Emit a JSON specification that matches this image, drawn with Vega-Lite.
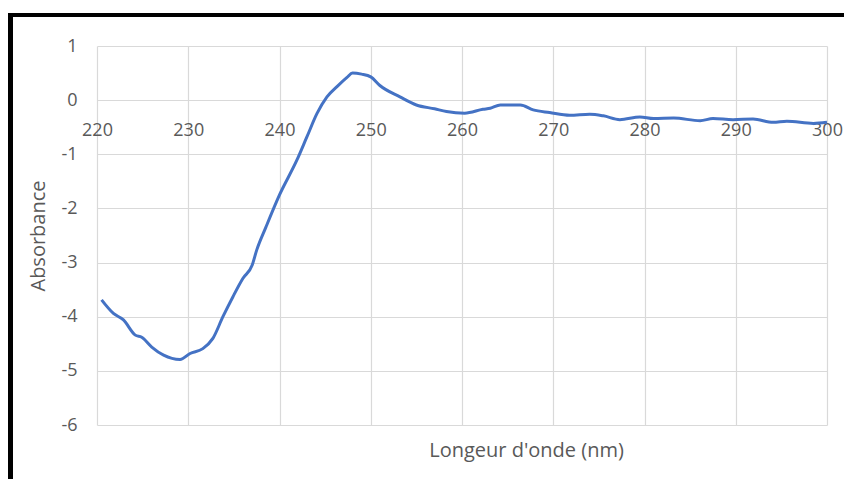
{
  "$schema": "https://vega.github.io/schema/vega-lite/v6.json",
  "width": 730,
  "height": 379,
  "autosize": "none",
  "padding": {"left": 97, "top": 46, "right": 17, "bottom": 54},
  "background": "white",
  "config": {
    "view": {"stroke": null},
    "font": "Open Sans",
    "axis": {
      "labelFont": "Open Sans",
      "titleFont": "Open Sans",
      "labelColor": "#595959",
      "titleColor": "#595959",
      "labelFontSize": 18,
      "titleFontSize": 20,
      "titleFontWeight": "normal",
      "gridColor": "#d9d9d9",
      "gridWidth": 1.2,
      "domain": false,
      "ticks": false
    }
  },
  "data": {
    "values": [
      {"wl": 220.5, "abs": -3.69},
      {"wl": 221.8, "abs": -3.94},
      {"wl": 222.9, "abs": -4.06},
      {"wl": 224.2, "abs": -4.34},
      {"wl": 224.9, "abs": -4.38},
      {"wl": 226.0, "abs": -4.56},
      {"wl": 227.3, "abs": -4.71},
      {"wl": 229.1, "abs": -4.79},
      {"wl": 230.2, "abs": -4.68},
      {"wl": 231.6, "abs": -4.59},
      {"wl": 232.7, "abs": -4.40},
      {"wl": 233.8, "abs": -4.00},
      {"wl": 234.9, "abs": -3.63},
      {"wl": 236.0, "abs": -3.29},
      {"wl": 237.0, "abs": -3.05},
      {"wl": 237.5, "abs": -2.77},
      {"wl": 238.5, "abs": -2.35},
      {"wl": 240.0, "abs": -1.75},
      {"wl": 241.9, "abs": -1.11},
      {"wl": 243.0, "abs": -0.68},
      {"wl": 244.1, "abs": -0.25},
      {"wl": 245.2, "abs": 0.06},
      {"wl": 246.3, "abs": 0.25},
      {"wl": 247.4, "abs": 0.42},
      {"wl": 248.0, "abs": 0.50},
      {"wl": 249.0, "abs": 0.48},
      {"wl": 250.0, "abs": 0.43},
      {"wl": 251.0, "abs": 0.27},
      {"wl": 253.2, "abs": 0.06},
      {"wl": 255.0, "abs": -0.09},
      {"wl": 257.0, "abs": -0.16},
      {"wl": 258.3, "abs": -0.21},
      {"wl": 260.3, "abs": -0.24},
      {"wl": 262.3, "abs": -0.17},
      {"wl": 263.1, "abs": -0.15},
      {"wl": 264.2, "abs": -0.09},
      {"wl": 266.4, "abs": -0.09},
      {"wl": 267.8, "abs": -0.18},
      {"wl": 269.6, "abs": -0.23},
      {"wl": 271.8, "abs": -0.28},
      {"wl": 274.0, "abs": -0.26},
      {"wl": 275.5, "abs": -0.29},
      {"wl": 277.3, "abs": -0.36},
      {"wl": 279.5, "abs": -0.31},
      {"wl": 281.0, "abs": -0.34},
      {"wl": 283.2, "abs": -0.33},
      {"wl": 286.1, "abs": -0.38},
      {"wl": 287.5, "abs": -0.34},
      {"wl": 289.7, "abs": -0.36},
      {"wl": 291.9, "abs": -0.35},
      {"wl": 294.1, "abs": -0.41},
      {"wl": 295.6, "abs": -0.39},
      {"wl": 298.5, "abs": -0.43},
      {"wl": 300.0, "abs": -0.41}
    ]
  },
  "layer": [
    {
      "mark": {"type": "line", "color": "#4472C4", "strokeWidth": 3, "interpolate": "monotone"},
      "encoding": {
        "x": {
          "field": "wl",
          "type": "quantitative",
          "scale": {"domain": [220, 300], "nice": false, "zero": false},
          "axis": {
            "title": "Longeur d'onde (nm)",
            "values": [220, 230, 240, 250, 260, 270, 280, 290, 300],
            "labelExpr": "'' + datum.value",
            "grid": true,
            "offset": -325,
            "labelPadding": 21,
            "labelFlush": false,
            "labelOverlap": false,
            "titleX": 429,
            "titleY": 350,
            "titleBaseline": "middle",
            "titleAlign": "center",
            "titleAnchor": null
          }
        },
        "y": {
          "field": "abs",
          "type": "quantitative",
          "scale": {"domain": [-6, 1], "nice": false, "zero": false},
          "axis": {
            "title": "Absorbance",
            "values": [-6, -5, -4, -3, -2, -1, 0, 1],
            "labelExpr": "'' + datum.value",
            "grid": true,
            "labelPadding": 20,
            "labelFlush": false,
            "labelOverlap": false,
            "titleX": -59,
            "titleY": 189.5,
            "titleAngle": -90,
            "titleBaseline": "middle",
            "titleAlign": "center"
          }
        }
      }
    },
    {
      "mark": {"type": "rule", "color": "black", "strokeWidth": 3.5, "clip": false},
      "encoding": {
        "x": {"datum": 210.5, "type": "quantitative"},
        "y": {"datum": 1.573, "type": "quantitative"},
        "y2": {"datum": -7.2}
      }
    },
    {
      "mark": {"type": "rule", "color": "black", "strokeWidth": 3.5, "clip": false},
      "encoding": {
        "x": {"datum": 210.3, "type": "quantitative"},
        "x2": {"datum": 303},
        "y": {"datum": 1.573, "type": "quantitative"}
      }
    }
  ]
}
